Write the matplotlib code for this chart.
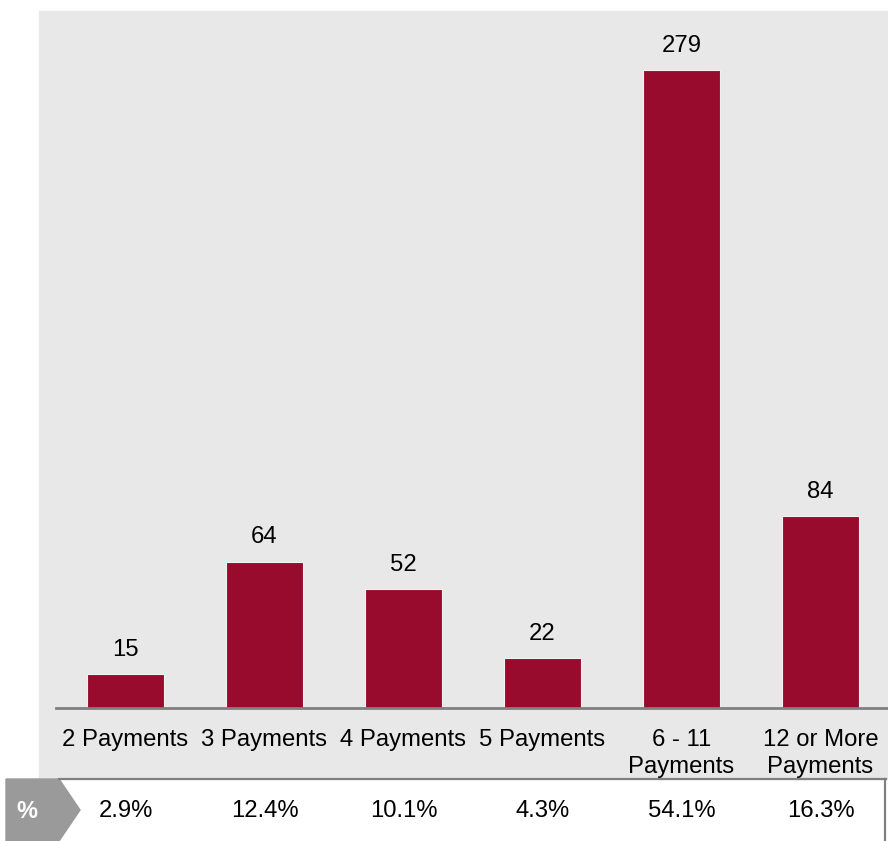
import matplotlib
matplotlib.use("Agg")
import matplotlib.pyplot as plt
from matplotlib.patches import Rectangle, Polygon
from matplotlib.lines import Line2D
from matplotlib.transforms import blended_transform_factory

plt.rcParams['font.family'] = ['Liberation Sans', 'DejaVu Sans']

categories = ['2 Payments', '3 Payments', '4 Payments', '5 Payments',
              '6 - 11\nPayments', '12 or More\nPayments']
counts = [15, 64, 52, 22, 279, 84]
shares = ['2.9%', '12.4%', '10.1%', '4.3%', '54.1%', '16.3%']

W, H = 888, 841
BAR = '#990b2d'
BG = '#e8e8e8'
LINE = '#808080'
FS = 17.2


def px(x, y):
    # pixel position (top-left origin) -> figure fraction
    return (x / W, 1 - y / H)


fig = plt.figure(figsize=(W / 100, H / 100), dpi=100)

# grey panel behind the chart and the category labels
x0, y0 = px(39, 779)
fig.patches.append(Rectangle((x0, y0), (W - 39) / W, (779 - 11) / H,
                             transform=fig.transFigure, color=BG, zorder=-5))

left, bottom = px(56, 708)
ax = fig.add_axes([left, bottom, (W - 56) / W, (708 - 11) / H])
ax.set_facecolor('none')

xs = range(len(categories))
bars = ax.bar(xs, counts, width=0.554, color=BAR, edgecolor='#f2f2f2',
              linewidth=0.8, zorder=2)
for rect, v in zip(bars, counts):
    ax.annotate(str(v), (rect.get_x() + rect.get_width() / 2, v),
                xytext=(0, 13), textcoords='offset points',
                ha='center', va='baseline', fontsize=FS, color='black')

ax.set_xlim(-0.5, 5.486)
ax.set_ylim(0, 304.6)
ax.set_yticks([])
ax.set_xticks(list(xs))
ax.set_xticklabels(categories, fontsize=FS, color='black', linespacing=1.3)
ax.tick_params(axis='x', length=0, pad=15)
for side in ['top', 'right', 'left']:
    ax.spines[side].set_visible(False)
ax.spines['bottom'].set_color(LINE)
ax.spines['bottom'].set_linewidth(2)
ax.spines['bottom'].set_zorder(3)

# percentage row underneath
tr = blended_transform_factory(ax.transData, fig.transFigure)
for i, s in enumerate(shares):
    ax.text(i, px(0, 811)[1], s, transform=tr, ha='center', va='center',
            fontsize=FS, color='black', clip_on=False)

fig.lines.append(Line2D([px(59, 0)[0], px(886, 0)[0]], [px(0, 779)[1]] * 2,
                        transform=fig.transFigure, color=LINE, lw=1.6))
fig.lines.append(Line2D([px(885, 0)[0]] * 2, [px(0, 779)[1], px(0, 845)[1]],
                        transform=fig.transFigure, color=LINE, lw=1.6))

arrow = [px(6, 779), px(59, 779), px(80, 810), px(59, 841), px(6, 841)]
fig.patches.append(Polygon(arrow, closed=True, transform=fig.transFigure,
                           color='#9a9a9a', zorder=1))
fig.text(*px(27, 811), '%', ha='center', va='center', fontsize=17,
         fontweight='bold', color='white')

fig.savefig('out.png', dpi=100)
